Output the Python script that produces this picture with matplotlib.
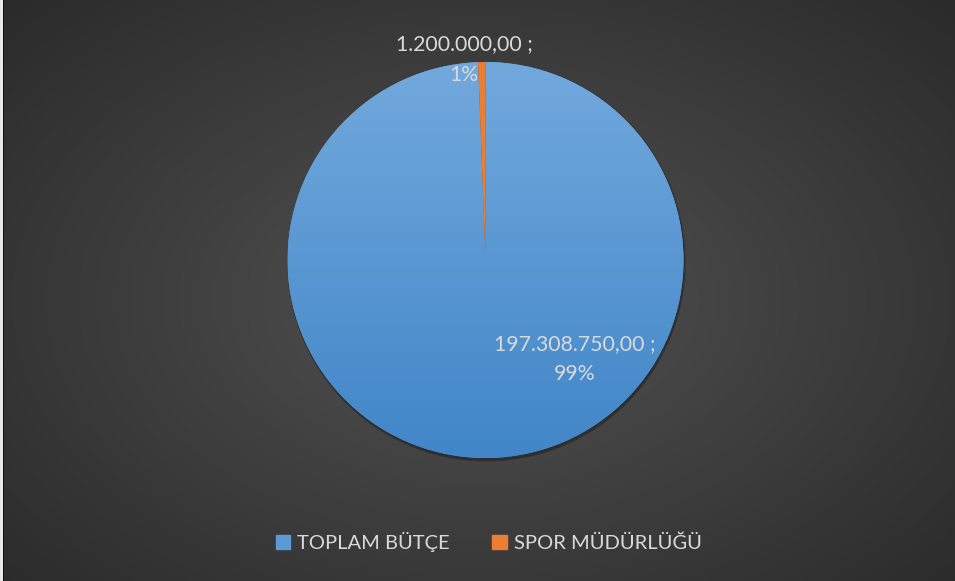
import numpy as np
import matplotlib
matplotlib.use('Agg')
import matplotlib.pyplot as plt
from matplotlib.patches import Circle, Rectangle

# data
categories = ['TOPLAM BÜTÇE', 'SPOR MÜDÜRLÜĞÜ']
values = [197308750.00, 1200000.00]
colors = ['#5b9bd5', '#ed7d31']

plt.rcParams['font.family'] = ['Lato', 'DejaVu Sans']

W, H = 955, 581
fig = plt.figure(figsize=(W / 100, H / 100), dpi=100)
ax = fig.add_axes([0, 0, 1, 1])

# radial background
yy, xx = np.mgrid[0:H, 0:W]
r = np.sqrt(((xx - 480) / 520.0) ** 2 + ((yy - 300) / 340.0) ** 2) / np.sqrt(2)
r = np.clip(r, 0, 1)
c0 = np.array([0x52, 0x52, 0x52]) / 255
c1 = np.array([0x26, 0x26, 0x26]) / 255
bg = c0[None, None, :] * (1 - r[..., None]) + c1[None, None, :] * r[..., None]
ax.imshow(bg, extent=(0, W, 0, H), origin='upper', zorder=0)

cx, cy, rad = 485.5, H - 260, 198

# soft shadow
for i, a in enumerate([0.10, 0.10, 0.12]):
    ax.add_patch(Circle((cx + 1.0, cy - 1.5 - i * 0.8), rad + 1.5 - i * 0.5,
                        color='black', alpha=a, lw=0, zorder=1))

wedges, _ = ax.pie(values, colors=colors, startangle=90, counterclock=False,
                   center=(cx, cy), radius=rad,
                   wedgeprops=dict(linewidth=0, zorder=2))

# vertical gradient on the blue slice
top = np.array([0x72, 0xa9, 0xdd]) / 255
bot = np.array([0x41, 0x86, 0xc8]) / 255
t = np.linspace(0, 1, 256)[:, None]
grad = (top[None, :] * (1 - t) + bot[None, :] * t)[:, None, :]
im = ax.imshow(grad, extent=(cx - rad, cx + rad, cy - rad, cy + rad),
               origin='upper', aspect='auto', zorder=3)
im.set_clip_path(wedges[0])
wedges[1].set_zorder(4)

total = sum(values)


def tr_fmt(v):
    s = f"{v:,.2f}"
    return s.replace(',', 'X').replace('.', ',').replace('X', '.')


label_pos = [(575, H - 359), (464, H - 59.5)]
for v, (lx, ly) in zip(values, label_pos):
    pct = round(v / total * 100)
    ax.text(lx, ly, f"{tr_fmt(v)} ;\n{pct}%", ha='center', va='center',
            color='#d9d9d9', fontsize=15.3, linespacing=1.65, zorder=5)

ax.set_xlim(0, W)
ax.set_ylim(0, H)
ax.set_aspect('auto')
ax.axis('off')

handles = [Rectangle((0, 0), 1, 1, color=c) for c in colors]
leg = ax.legend(handles, categories, loc='center', ncol=2, frameon=False,
                bbox_to_anchor=(488.5 / W, 1 - 542 / H),
                handlelength=0.72, handleheight=0.72, handletextpad=0.35,
                columnspacing=2.1, fontsize=14.5)
for txt in leg.get_texts():
    txt.set_color('#d9d9d9')

# light left border
ax.add_patch(Rectangle((0, 0), 2.5, H, color='#e8e8e8', lw=0, zorder=6))
ax.add_patch(Rectangle((2.5, 0), 1, H, color='#111111', lw=0, zorder=6))

fig.savefig('out.png', dpi=100)
